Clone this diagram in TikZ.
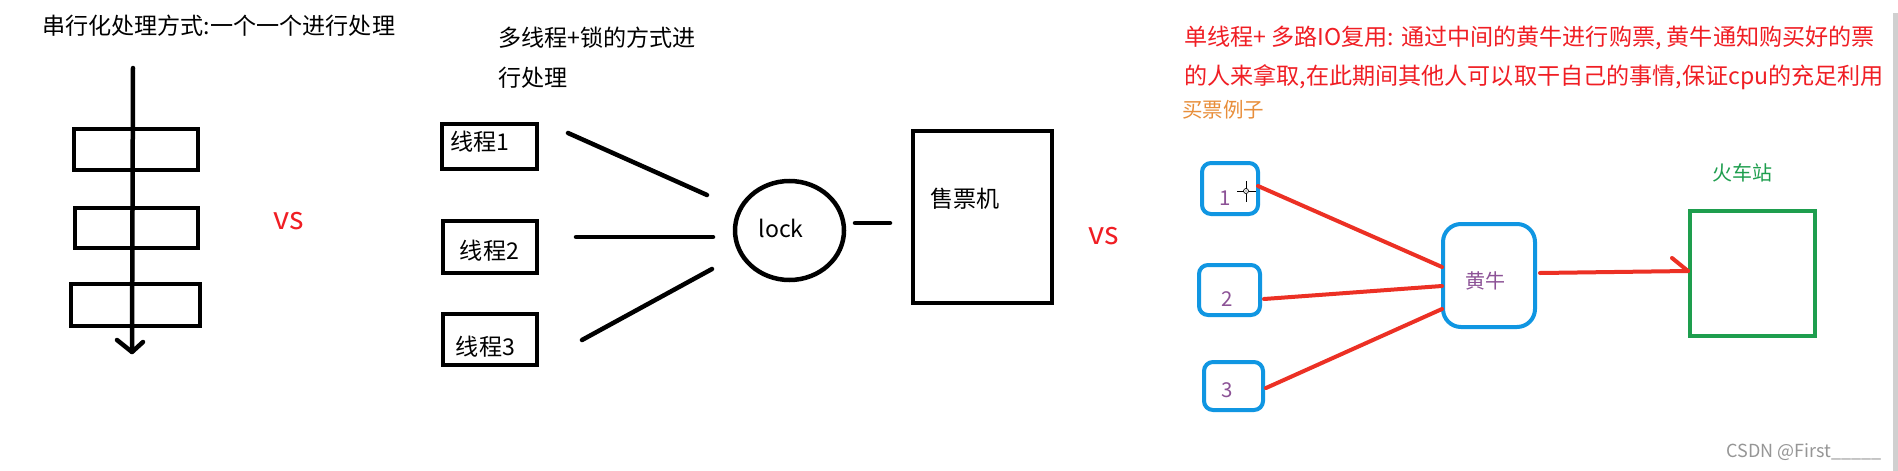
\documentclass[tikz,border=0pt]{standalone}
\usepackage{fontspec}
\setmainfont{Noto Sans CJK SC}
\usetikzlibrary{shapes.geometric}
\definecolor{inkred}{RGB}{240,30,36}
\definecolor{linered}{RGB}{236,48,36}
\definecolor{boxblue}{RGB}{16,150,226}
\definecolor{numpurple}{RGB}{140,82,150}
\definecolor{stgreen}{RGB}{30,158,78}
\definecolor{exorange}{RGB}{232,142,58}
\definecolor{wmgray}{RGB}{150,150,150}
\definecolor{bargray}{RGB}{208,208,208}
\begin{document}
\begin{tikzpicture}[x=1pt,y=-1pt,
  sq/.style={draw=black,line width=4.5pt,inner sep=0pt},
  ln/.style={draw=black,line width=4.5pt,line cap=round},
  rbox/.style={draw=boxblue,line width=4pt,rounded corners=9pt,inner sep=0pt},
  rln/.style={draw=linered,line width=4pt,line cap=round},
  txt/.style={inner sep=0pt,font=\fontsize{23.1}{27}\selectfont},
  rtxt/.style={inner sep=0pt,text=inkred,font=\fontsize{23.1}{27}\selectfont},
  vstxt/.style={inner sep=0pt,text=inkred,font=\fontsize{31}{34}\selectfont},
  ptxt/.style={inner sep=0pt,text=numpurple,font=\fontsize{20.5}{24}\selectfont},
  gtxt/.style={inner sep=0pt,text=stgreen,font=\fontsize{20}{24}\selectfont},
]
\useasboundingbox (0,0) rectangle (1898,471);
\fill[white] (0,0) rectangle (1898,471);

% ---------- serial section ----------
\node[txt,anchor=west] (t1) at (42,26) {串行化处理方式:一个一个进行处理};
\node[sq,minimum width=124pt,minimum height=41pt] (s1) at (136,149.5) {};
\node[sq,minimum width=123pt,minimum height=40pt] (s2) at (136.5,228) {};
\node[sq,minimum width=129pt,minimum height=42pt] (s3) at (135.5,305) {};
\coordinate (ltop) at (133,68);
\coordinate (ltip) at (132,352);
\coordinate (lbl) at (117,340);
\coordinate (lbr) at (143,342);
\draw[ln] (ltop) -- (ltip);
\draw[ln,line join=round] (lbl) -- (ltip) -- (lbr);
\node[vstxt] (vs1) at (289,221) {vs};

% ---------- multi-thread section ----------
\node[txt,anchor=west] (t2a) at (498,38) {多线程+锁的方式进};
\node[txt,anchor=west] (t2b) at (498,78) {行处理};
\node[sq,minimum width=95pt,minimum height=45pt] (th1) at (489.5,146.5) {};
\node[sq,minimum width=94pt,minimum height=52pt] (th2) at (490,247) {};
\node[sq,minimum width=94pt,minimum height=51pt] (th3) at (490,339.5) {};
\node[txt,anchor=west] (th1l) at (450,142) {线程1};
\node[txt] (th2l) at (489.5,251) {线程2};
\node[txt] (th3l) at (485.5,347) {线程3};
\coordinate (a1) at (568,133); \coordinate (b1) at (707,195);
\coordinate (a2) at (576,237); \coordinate (b2) at (713,237);
\coordinate (a3) at (582,340); \coordinate (b3) at (712,269);
\draw[ln] (a1) -- (b1);
\draw[ln] (a2) -- (b2);
\draw[ln] (a3) -- (b3);
\node[draw=black,ellipse,line width=4.5pt,minimum width=109pt,minimum height=99pt,inner sep=0pt] (lock) at (789.5,230.5) {};
\node[txt] (lockl) at (781,228) {lock};
\coordinate (c1) at (855,223); \coordinate (c2) at (890,223);
\draw[ln] (c1) -- (c2);
\node[sq,minimum width=139pt,minimum height=172pt] (tm) at (982.5,217) {};
\node[txt] (tml) at (965,199) {售票机};
\node[vstxt] (vs2) at (1104,236.5) {vs};

% ---------- IO multiplexing section ----------
\node[rtxt,anchor=west] (r1) at (1184,38) {单线程+ 多路IO复用: 通过中间的黄牛进行购票, 黄牛通知购买好的票};
\node[rtxt,anchor=west] (r2) at (1184,77) {的人来拿取,在此期间其他人可以取干自己的事情,保证cpu的充足利用};
\node[inner sep=0pt,text=exorange,font=\fontsize{20.5}{24}\selectfont,anchor=west] (ex) at (1182,110) {买票例子};

\node[rbox,minimum width=56pt,minimum height=51pt] (p1) at (1230,188.5) {};
\node[rbox,minimum width=61pt,minimum height=50pt] (p2) at (1229.5,290) {};
\node[rbox,minimum width=59pt,minimum height=48pt] (p3) at (1233.5,386) {};
\node[ptxt] (p1l) at (1225.5,198) {1};
\node[ptxt] (p2l) at (1227,299.5) {2};
\node[ptxt] (p3l) at (1227,390.5) {3};
\node[rbox,rounded corners=18pt,minimum width=92pt,minimum height=103pt] (hn) at (1489,275.5) {};
\node[ptxt,font=\fontsize{20}{24}\selectfont] (hnl) at (1485,281) {黄牛};

\coordinate (q1) at (1258,186); \coordinate (h1) at (1442,267);
\coordinate (q2) at (1264,299); \coordinate (h2) at (1442,286);
\coordinate (q3) at (1266,388); \coordinate (h3) at (1442,309);
\draw[rln] (q1) -- (h1);
\draw[rln] (q2) -- (h2);
\draw[rln] (q3) -- (h3);

\node[draw=stgreen,line width=4pt,inner sep=0pt,minimum width=125pt,minimum height=125pt] (st) at (1752.5,273.5) {};
\node[gtxt] (stl) at (1742.5,173) {火车站};
\coordinate (h4) at (1540,273); \coordinate (s4) at (1688,271);
\coordinate (barb) at (1672,258);
\draw[rln] (h4) -- (s4);
\draw[rln] (barb) -- (s4);

% cursor
\coordinate (cur) at (1246,191);
\draw[black,line width=0.9pt] (1237,191) -- (1243.5,191) (1248.5,191) -- (1256,191)
  (1246,181) -- (1246,188.5) (1246,193.5) -- (1246,202);
\draw[black,line width=0.7pt] (cur) circle (2.5pt);
\fill[black] (cur) circle (0.7pt);

% watermark and scrollbar
\node[inner sep=0pt,text=wmgray,font=\fontsize{18}{20}\selectfont,anchor=east] (wm) at (1882,452) {CSDN @First\_\_\_\_\_};
\fill[bargray] (1893,13) rectangle (1898,471);
\end{tikzpicture}
\end{document}
